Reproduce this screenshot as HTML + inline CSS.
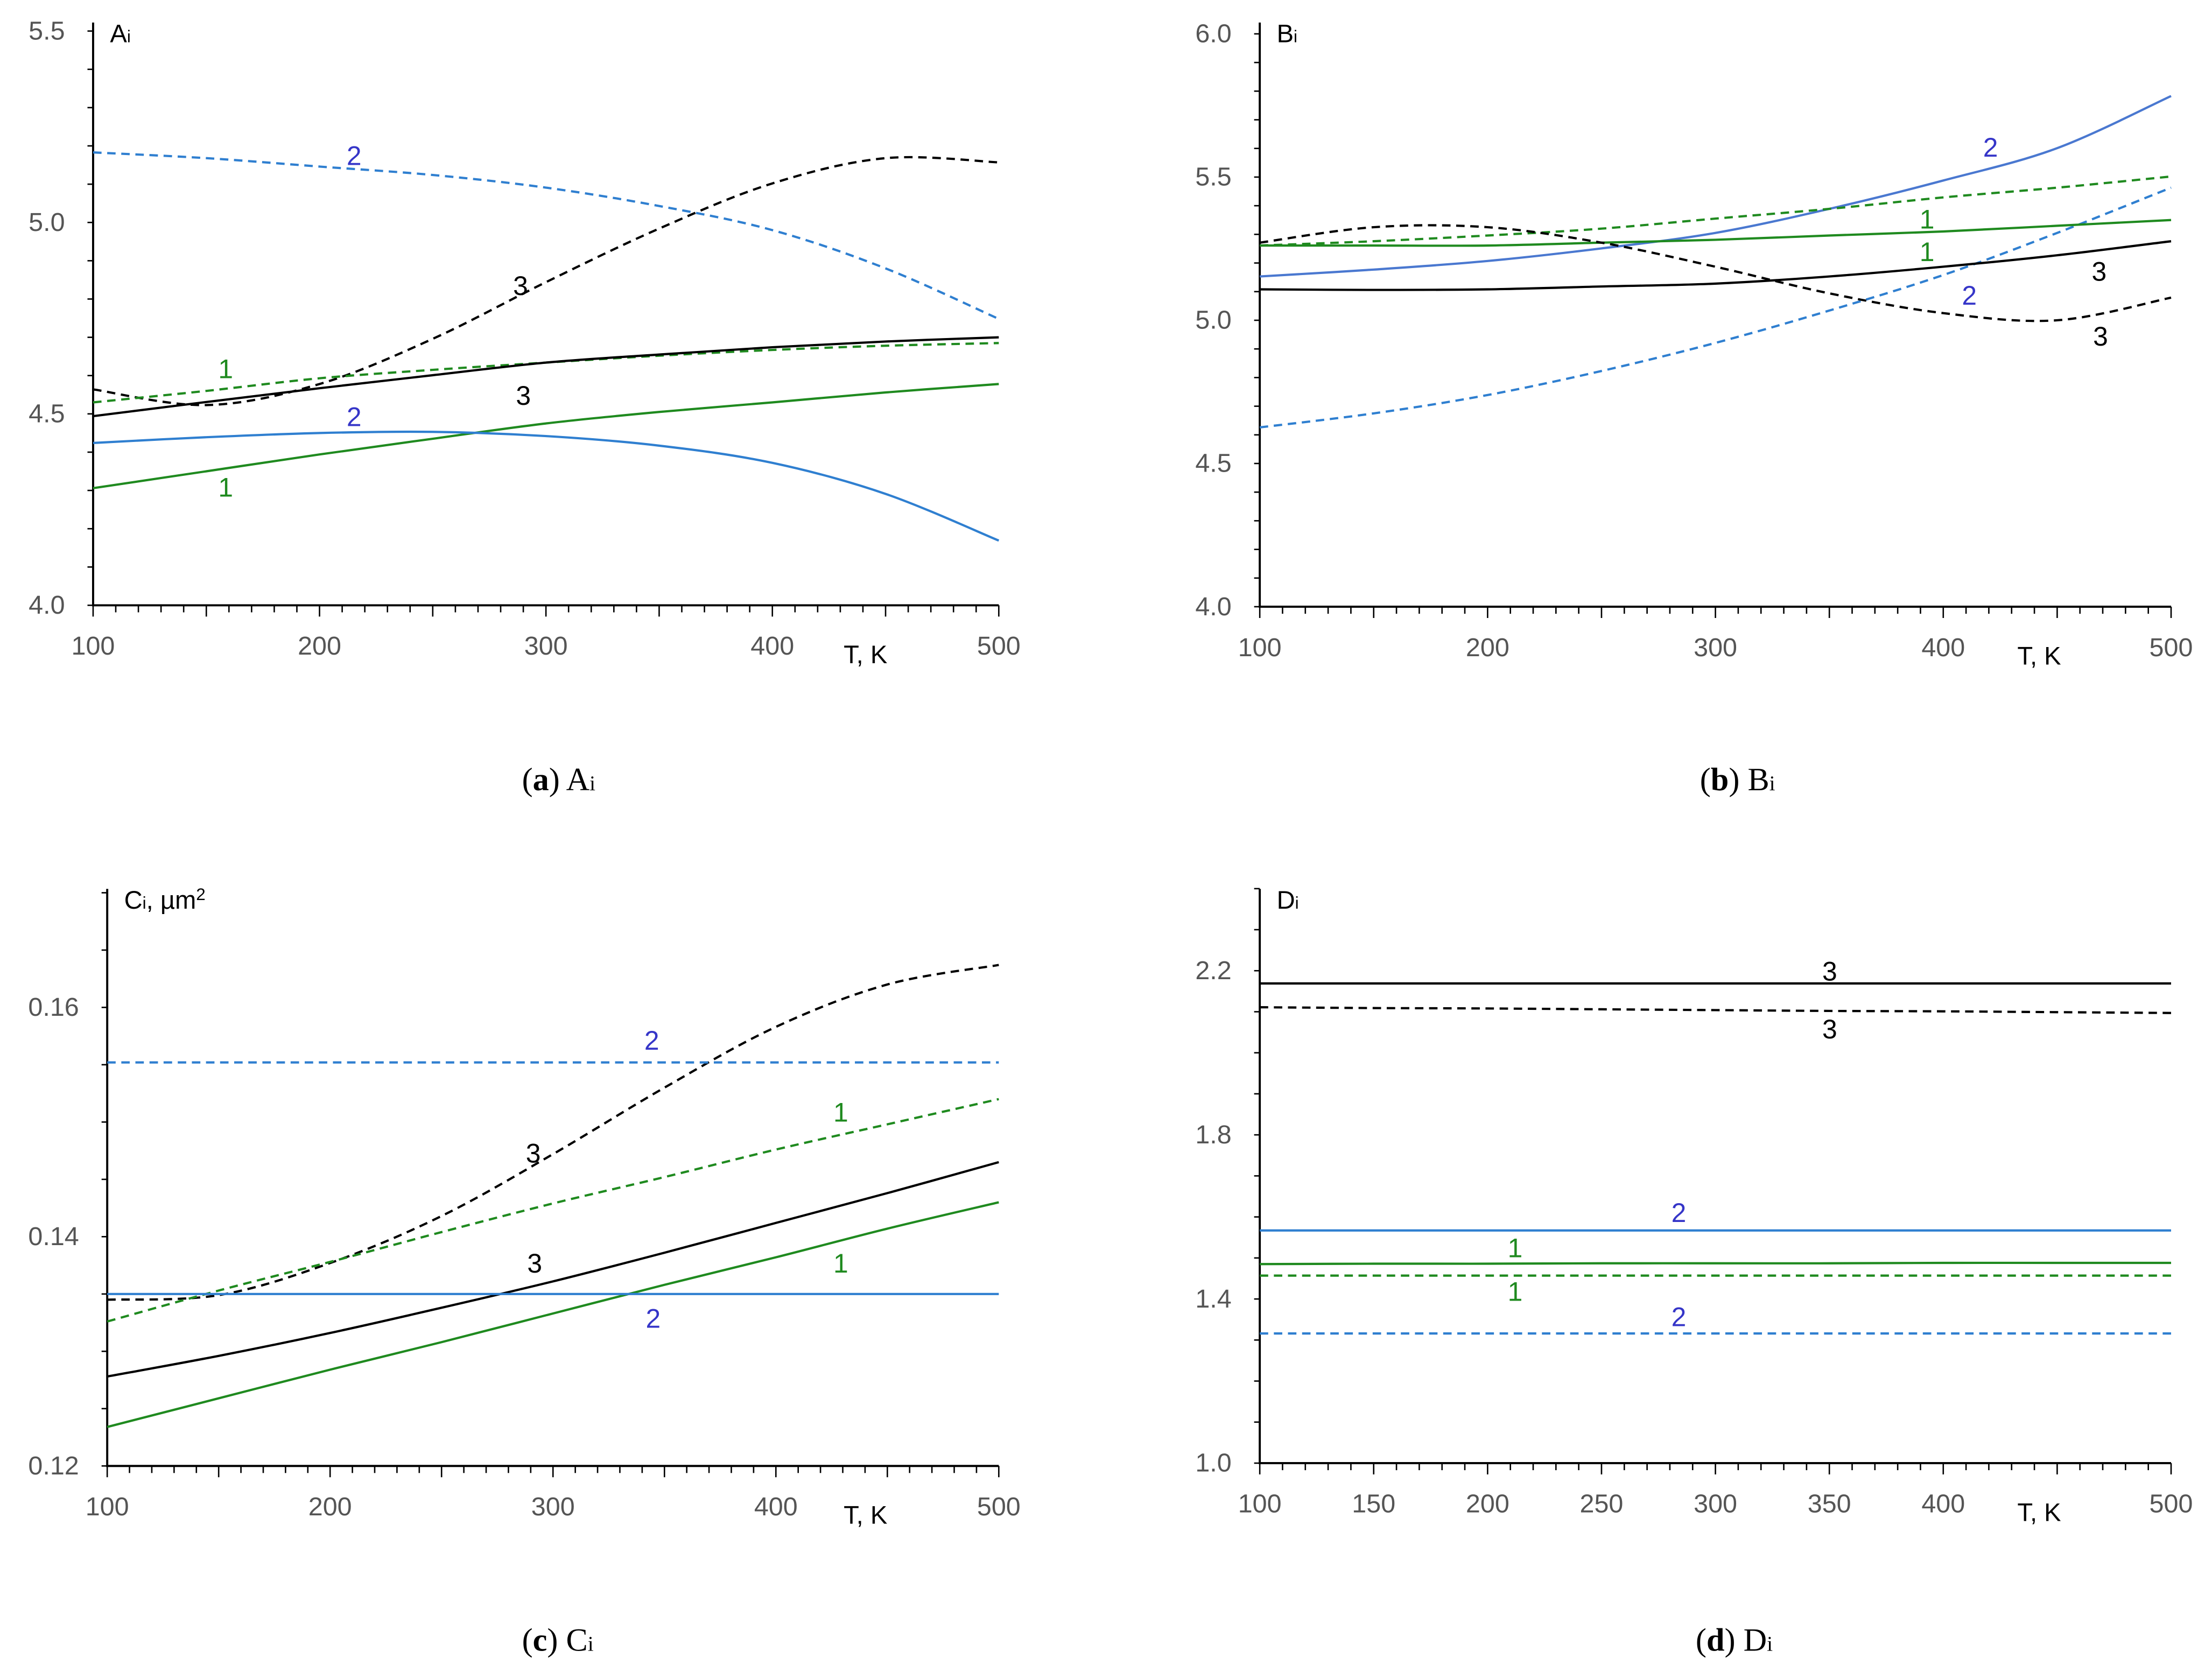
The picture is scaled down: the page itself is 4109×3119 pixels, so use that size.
<!DOCTYPE html>
<html><head><meta charset="utf-8"><style>
html,body{margin:0;padding:0;background:#fff}
svg{display:block}
.tick{font-family:"Liberation Sans",sans-serif;font-size:18.5px;fill:#555}
.ttl{font-family:"Liberation Sans",sans-serif;font-size:18px;fill:#000}
.cap{font-family:"Liberation Serif",serif;font-size:23px;fill:#000}
.lbl{font-family:"Liberation Sans",sans-serif;font-size:19px}
</style></head><body>
<svg id="fig" width="4109" height="3119" viewBox="0 0 1568 1190" preserveAspectRatio="none" xmlns="http://www.w3.org/2000/svg">
<text class="cap" x="370" y="560">(<tspan font-weight="bold">a</tspan>) A<tspan font-size="15">i</tspan></text>
<text class="cap" x="1205" y="560">(<tspan font-weight="bold">b</tspan>) B<tspan font-size="15">i</tspan></text>
<text class="cap" x="370" y="1170">(<tspan font-weight="bold">c</tspan>) C<tspan font-size="15">i</tspan></text>
<text class="cap" x="1202" y="1170">(<tspan font-weight="bold">d</tspan>) D<tspan font-size="15">i</tspan></text>
</svg>
<script>
const T9=[100,150,200,250,300,350,400,450,500];
// Panel A
const aBlueDash=[5.183,5.168,5.146,5.124,5.091,5.043,4.98,4.88,4.748];
const aBlackDash=[4.564,4.523,4.578,4.696,4.844,4.984,5.102,5.168,5.157];
const aGreenDash=[4.53,4.56,4.593,4.615,4.634,4.652,4.667,4.678,4.685];
const aBlackSolid=[4.494,4.531,4.567,4.601,4.634,4.655,4.674,4.689,4.70];
const aGreenSolid=[4.306,4.350,4.394,4.435,4.475,4.505,4.53,4.556,4.578];
const aBlueSolid=[4.424,4.439,4.45,4.453,4.442,4.417,4.372,4.291,4.169];
// Panel B
const bBlueSolid=[5.153,5.177,5.207,5.251,5.305,5.389,5.488,5.601,5.783];
const bBlueDash=[4.626,4.675,4.739,4.823,4.921,5.034,5.158,5.305,5.463];
const bGreenDash=[5.261,5.276,5.296,5.320,5.355,5.389,5.429,5.463,5.502];
const bGreenSolid=[5.261,5.261,5.261,5.271,5.281,5.296,5.310,5.330,5.350];
const bBlackSolid=[5.108,5.106,5.108,5.118,5.128,5.153,5.187,5.227,5.276];
const bBlackDash=[5.271,5.325,5.325,5.271,5.187,5.094,5.025,5.0,5.079];
// Panel C
const cBlackDash=[0.1345,0.1349,0.1377,0.1418,0.1472,0.1530,0.1583,0.1620,0.1637];
const cGreenDash=[0.1326,0.1353,0.1378,0.1404,0.1429,0.1452,0.1476,0.1498,0.1520];
const cBlackSolid=[0.1278,0.1296,0.1316,0.1338,0.1361,0.1386,0.1412,0.1438,0.1465];
const cGreenSolid=[0.1234,0.1259,0.1284,0.1308,0.1333,0.1358,0.1382,0.1407,0.1430];
const cBlueDash=[0.1552,0.1552,0.1552,0.1552,0.1552,0.1552,0.1552,0.1552,0.1552];
const cBlueSolid=[0.1350,0.1350,0.1350,0.1350,0.1350,0.1350,0.1350,0.1350,0.1350];
// Panel D
const dBlackSolid=[2.169,2.169,2.169,2.169,2.169,2.169,2.169,2.169,2.169];
const dBlackDash=[2.111,2.109,2.108,2.106,2.104,2.102,2.101,2.099,2.097];
const dBlueSolid=[1.567,1.567,1.567,1.567,1.567,1.567,1.567,1.567,1.567];
const dGreenSolid=[1.485,1.486,1.486,1.487,1.487,1.487,1.488,1.488,1.488];
const dGreenDash=[1.457,1.457,1.457,1.457,1.457,1.457,1.457,1.457,1.457];
const dBlueDash=[1.316,1.316,1.316,1.316,1.316,1.316,1.316,1.316,1.316];
const aYTicks=["4.0","4.5","5.0","5.5"], bYTicks=["4.0","4.5","5.0","5.5","6.0"];
const cYTicks=["0.12","0.14","0.16"], dYTicks=["1.0","1.4","1.8","2.2"];
const abcXTicks=[100,200,300,400,500], dXTicks=[100,150,200,250,300,350,400,500];

const NS="http://www.w3.org/2000/svg", svg=document.getElementById('fig');
const GREEN="#1f8a1f", BLUE="#2f7fd0", BLUE2="#4a78d0", LBL="#3535c8";
function mk(tag,attrs,parent){const e=document.createElementNS(NS,tag);for(const k in attrs)e.setAttribute(k,attrs[k]);(parent||svg).appendChild(e);return e;}
function panel(p){
  const g=mk('g',{});
  
  
  const sx=v=>p.x0+(v-p.xmin)/(p.xmax-p.xmin)*(p.x1-p.x0);
  const sy=v=>p.y0-(v-p.ymin)/(p.ymax-p.ymin)*(p.y0-p.y1);
  const ax=mk('path',{d:`M${p.x0},${p.ytop} V${p.y0} H${p.x1}`,stroke:'#000','stroke-width':1.5,fill:'none'},g);
  
  
  for(let v=p.xmin;v<=p.xmax+0.01;v+=10){const big=(v%50===0);mk('line',{x1:sx(v),x2:sx(v),y1:p.y0,y2:p.y0+(big?8:5),stroke:'#000','stroke-width':1},g);}
  for(let v=p.ymin;v<=p.ymaxAxis+1e-9;v+=p.yminor){mk('line',{x1:p.x0-4,x2:p.x0,y1:sy(v),y2:sy(v),stroke:'#000','stroke-width':1},g);}
  p.xt.forEach(v=>{const t=mk('text',{x:sx(v),y:p.y0+35,'text-anchor':'middle',class:'tick'},g);t.textContent=v;
    
    });
  p.yt.forEach(s=>{const t=mk('text',{x:p.x0-20,y:sy(parseFloat(s))+6,'text-anchor':'end',class:'tick'},g);t.textContent=s;
    
    });
  const tk=mk('text',{x:p.tkx,y:p.y0+41,class:'ttl'},g);tk.textContent='T, K';
  
  
  const yt=mk('text',{x:p.x0+12,y:p.ytop+14,class:'ttl'},g);yt.innerHTML=p.ytitle;
  
  
  p.series.forEach(s=>{
    const pts=T9.map((t,i)=>[sx(t),sy(s.v[i])]);
    let d=`M${pts[0][0]},${pts[0][1]}`;
    for(let i=0;i<pts.length-1;i++){const p0=pts[Math.max(0,i-1)],p1=pts[i],p2=pts[i+1],p3=pts[Math.min(pts.length-1,i+2)];
      d+=` C${p1[0]+(p2[0]-p0[0])/6},${p1[1]+(p2[1]-p0[1])/6} ${p2[0]-(p3[0]-p1[0])/6},${p2[1]-(p3[1]-p1[1])/6} ${p2[0]},${p2[1]}`;}
    const e=mk('path',{d,stroke:s.c,'stroke-width':1.6,fill:'none','stroke-dasharray':s.dash?'6,4':'none'},g);
    
    
  });
  p.labels.forEach(l=>{const t=mk('text',{x:l[0],y:l[1],'text-anchor':'middle',class:'lbl',fill:l[3]},g);t.textContent=l[2];
    
    });
}
panel({name:'panel-a',x0:66,x1:708,y0:429,y1:22,ytop:16,xmin:100,xmax:500,ymin:4.0,ymax:5.5,ymaxAxis:5.5,yminor:0.1,xt:abcXTicks,yt:aYTicks,tkx:598,
 ytitle:'A<tspan font-size="12">i</tspan>',
 series:[{n:'a-curve-2-dashed',v:aBlueDash,c:BLUE,dash:1},{n:'a-curve-3-dashed',v:aBlackDash,c:'#000',dash:1},{n:'a-curve-1-dashed',v:aGreenDash,c:GREEN,dash:1},
  {n:'a-curve-3-solid',v:aBlackSolid,c:'#000'},{n:'a-curve-1-solid',v:aGreenSolid,c:GREEN},{n:'a-curve-2-solid',v:aBlueSolid,c:BLUE}],
 labels:[[251,117,'2',LBL],[369,209,'3','#000'],[160,268,'1',GREEN],[371,287,'3','#000'],[251,302,'2',LBL],[160,352,'1',GREEN]]});
panel({name:'panel-b',x0:893,x1:1539,y0:430,y1:24,ytop:16,xmin:100,xmax:500,ymin:4.0,ymax:6.0,ymaxAxis:6.0,yminor:0.1,xt:abcXTicks,yt:bYTicks,tkx:1430,
 ytitle:'B<tspan font-size="12">i</tspan>',
 series:[{n:'b-curve-2-solid',v:bBlueSolid,c:BLUE2},{n:'b-curve-2-dashed',v:bBlueDash,c:BLUE,dash:1},{n:'b-curve-1-dashed',v:bGreenDash,c:GREEN,dash:1},
  {n:'b-curve-1-solid',v:bGreenSolid,c:GREEN},{n:'b-curve-3-solid',v:bBlackSolid,c:'#000'},{n:'b-curve-3-dashed',v:bBlackDash,c:'#000',dash:1}],
 labels:[[1411,111,'2',LBL],[1366,162,'1',GREEN],[1366,185,'1',GREEN],[1488,199,'3','#000'],[1396,216,'2',LBL],[1489,245,'3','#000']]});
panel({name:'panel-c',x0:76,x1:708,y0:1039,y1:714,ytop:630,xmin:100,xmax:500,ymin:0.12,ymax:0.16,ymaxAxis:0.17,yminor:0.005,xt:abcXTicks,yt:cYTicks,tkx:598,
 ytitle:'C<tspan font-size="12">i</tspan>, µm<tspan font-size="12" dy="-6">2</tspan>',
 series:[{n:'c-curve-3-dashed',v:cBlackDash,c:'#000',dash:1},{n:'c-curve-1-dashed',v:cGreenDash,c:GREEN,dash:1},{n:'c-curve-3-solid',v:cBlackSolid,c:'#000'},
  {n:'c-curve-1-solid',v:cGreenSolid,c:GREEN},{n:'c-curve-2-dashed',v:cBlueDash,c:BLUE,dash:1},{n:'c-curve-2-solid',v:cBlueSolid,c:BLUE}],
 labels:[[462,744,'2',LBL],[596,795,'1',GREEN],[378,824,'3','#000'],[379,902,'3','#000'],[596,902,'1',GREEN],[463,941,'2',LBL]]});
panel({name:'panel-d',x0:893,x1:1539,y0:1037,y1:688,ytop:630,xmin:100,xmax:500,ymin:1.0,ymax:2.2,ymaxAxis:2.4,yminor:0.1,xt:dXTicks,yt:dYTicks,tkx:1430,
 ytitle:'D<tspan font-size="12">i</tspan>',
 series:[{n:'d-curve-3-solid',v:dBlackSolid,c:'#000'},{n:'d-curve-3-dashed',v:dBlackDash,c:'#000',dash:1},{n:'d-curve-2-solid',v:dBlueSolid,c:BLUE},
  {n:'d-curve-1-solid',v:dGreenSolid,c:GREEN},{n:'d-curve-1-dashed',v:dGreenDash,c:GREEN,dash:1},{n:'d-curve-2-dashed',v:dBlueDash,c:BLUE,dash:1}],
 labels:[[1297,695,'3','#000'],[1297,736,'3','#000'],[1190,866,'2',LBL],[1074,891,'1',GREEN],[1074,922,'1',GREEN],[1190,940,'2',LBL]]});
</script>
</body></html>
